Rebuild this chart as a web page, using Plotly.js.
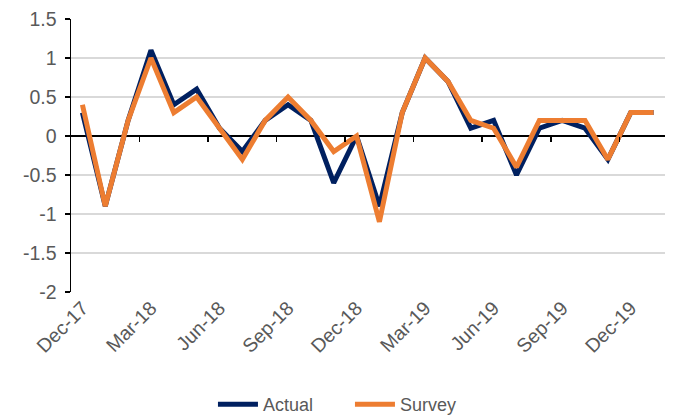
<!DOCTYPE html>
<html>
<head>
<meta charset="utf-8">
<script src="https://cdn.plot.ly/plotly-3.0.1.min.js"></script>
<style>html,body{margin:0;padding:0;background:#fff;}#chart{width:673px;height:417px;}</style>
</head>
<body>
<div id="chart"></div>
<script>
const months = ["Dec-17","Jan-18","Feb-18","Mar-18","Apr-18","May-18","Jun-18","Jul-18","Aug-18","Sep-18","Oct-18","Nov-18","Dec-18","Jan-19","Feb-19","Mar-19","Apr-19","May-19","Jun-19","Jul-19","Aug-19","Sep-19","Oct-19","Nov-19","Dec-19","Jan-20"];
const actual = [0.3,-0.9,0.2,1.1,0.4,0.6,0.1,-0.2,0.2,0.4,0.2,-0.6,0.0,-0.9,0.3,1.0,0.7,0.1,0.2,-0.5,0.1,0.2,0.1,-0.3,0.3,0.3];
const survey = [0.4,-0.9,0.2,1.0,0.3,0.5,0.1,-0.3,0.2,0.5,0.2,-0.2,0.0,-1.1,0.3,1.0,0.7,0.2,0.1,-0.4,0.2,0.2,0.2,-0.3,0.3,0.3];
const yTicks = [-2,-1.5,-1,-0.5,0,0.5,1,1.5];

const idx = months.map((m,i)=>i);
const labelIdx = idx.filter(i=>i%3===0);
const tickBetween = idx.filter(i=>i%3===2 && i<months.length-1).map(i=>i+0.5);

const fam = "Liberation Sans, Arial, sans-serif";
const font = {family:fam, size:19.5, color:"#595959"};
const traces = [
  {x: idx, y: actual, name:"Actual", type:"scatter", mode:"lines", line:{color:"#002060", width:5}},
  {x: idx, y: survey, name:"Survey", type:"scatter", mode:"lines", line:{color:"#ED7D31", width:5}},
  {x: [0], y:[null], xaxis:"x2", showlegend:false, hoverinfo:"skip", type:"scatter"}
];
const yMin = -2, yMax = 1.5;
const layout = {
  width:673, height:417,
  margin:{l:71, r:8, t:19, b:125},
  paper_bgcolor:"#fff", plot_bgcolor:"#fff",
  font: font,
  showlegend:true,
  legend:{orientation:"h", x:0.52, xref:"container", xanchor:"center", yref:"container", y:0.03, yanchor:"middle", font:{family:fam, size:18, color:"#595959"}, itemwidth:40, entrywidth:82, tracegroupgap:0},
  xaxis:{automargin:false, range:[-0.5, months.length-0.5], tickmode:"array", tickvals:labelIdx, ticktext:labelIdx.map(i=>months[i]), tickangle:-45, ticks:"", showgrid:false, zeroline:false, showline:false, tickfont:font},
  xaxis2:{automargin:false, overlaying:"x", anchor:"free", position:(0-yMin)/(yMax-yMin), side:"bottom", range:[-0.5, months.length-0.5], tickmode:"array", tickvals:tickBetween, ticks:"outside", ticklen:5, tickwidth:1.5, tickcolor:"#000", showticklabels:false, showgrid:false, zeroline:false, showline:false},
  yaxis:{automargin:false, range:[yMin,yMax], tickmode:"array", tickvals:yTicks, ticktext:yTicks.map(v=>String(v)), showgrid:true, gridcolor:"#d9d9d9", gridwidth:1.5, zeroline:true, zerolinecolor:"#000", zerolinewidth:1.5, showline:true, linecolor:"#000", linewidth:1.5, ticks:"outside", ticklen:5, tickcolor:"#000", tickwidth:1.5, tickfont:font, ticklabelstandoff:4}
};
Plotly.newPlot("chart", traces, layout, {displayModeBar:false, staticPlot:true});
</script>
</body>
</html>
